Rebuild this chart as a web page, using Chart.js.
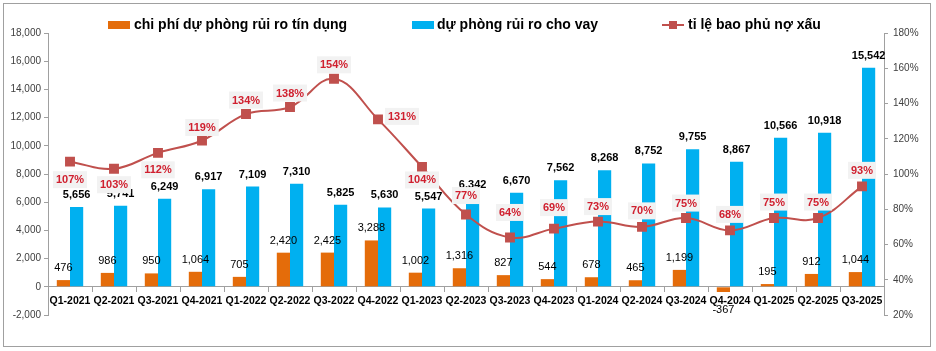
<!DOCTYPE html>
<html lang="vi">
<head>
<meta charset="UTF-8">
<title>Dự phòng rủi ro tín dụng</title>
<script src="https://cdn.jsdelivr.net/npm/chart.js"></script>
<style>
    body { margin: 0; padding: 0; background: #fff; }
    #wrap { width: 936px; height: 351px; }
</style>
</head>
<body>
<div id="wrap"><canvas id="chart" width="936" height="351"></canvas></div>
<script>
// data
const quarters = ['Q1-2021','Q2-2021','Q3-2021','Q4-2021','Q1-2022','Q2-2022','Q3-2022','Q4-2022',
    'Q1-2023','Q2-2023','Q3-2023','Q4-2023','Q1-2024','Q2-2024','Q3-2024','Q4-2024',
    'Q1-2025','Q2-2025','Q3-2025'];
const provisionCost = [476, 986, 950, 1064, 705, 2420, 2425, 3288, 1002, 1316, 827, 544, 678, 465, 1199, -367, 195, 912, 1044];
const loanReserve = [5656, 5741, 6249, 6917, 7109, 7310, 5825, 5630, 5547, 6342, 6670, 7562, 8268, 8752, 9755, 8867, 10566, 10918, 15542];
const coverageRatio = [107, 103, 112, 119, 134, 138, 154, 131, 104, 77, 64, 69, 73, 70, 75, 68, 75, 75, 93];
const leftTicks = [-2000, 0, 2000, 4000, 6000, 8000, 10000, 12000, 14000, 16000, 18000];
const rightTicks = [20, 40, 60, 80, 100, 120, 140, 160, 180];
const seriesNames = ['chi phí dự phòng rủi ro tín dụng', 'dự phòng rủi ro cho vay', 'tỉ lệ bao phủ nợ xấu'];

const ORANGE = '#E46C0A', BLUE = '#00B0F0', RED_LINE = '#C0504D', RED_TXT = '#D0202F';
const AXIS = '#A0A0A0';
const FONT = '"Liberation Sans", Arial, sans-serif';

// where each % label sits relative to its point
const ratioDx = [0,0,0,0,0,0,0,24,0,0,0,0,0,0,0,0,0,0,0];
const ratioDy = [18,16,17,-13,-14,-14,-14,-3,13,-19,-25,-21,-15,-16,-15,-16,-16,-16,-16];

Chart.defaults.font.family = FONT;

const labelPlugin = {
    id: 'labels',
    afterDatasetsDraw(chart) {
        const ctx = chart.ctx;
        ctx.save();
        ctx.textAlign = 'center';
        ctx.textBaseline = 'middle';
        // bar values
        [0, 1].forEach(di => {
            const meta = chart.getDatasetMeta(di);
            const vals = chart.data.datasets[di].data;
            ctx.font = (di === 1 ? 'bold ' : '') + '11px ' + FONT;
            ctx.fillStyle = '#000';
            meta.data.forEach((bar, i) => {
                const v = vals[i];
                const y = v >= 0 ? bar.y - 12 : bar.y + 18;
                ctx.fillText(v.toLocaleString('en-US'), bar.x, y);
            });
        });
        // coverage ratio labels
        const lm = chart.getDatasetMeta(2);
        ctx.font = 'bold 11px ' + FONT;
        lm.data.forEach((pt, i) => {
            const txt = coverageRatio[i] + '%';
            const w = ctx.measureText(txt).width + 6;
            const h = 17;
            const cx = pt.x + ratioDx[i], cy = pt.y + ratioDy[i];
            ctx.fillStyle = '#F2F2F2';
            ctx.fillRect(cx - w / 2, cy - h / 2, w, h);
            ctx.fillStyle = RED_TXT;
            ctx.fillText(txt, cx, cy + 0.5);
        });
        ctx.restore();
    },
    afterDraw(chart) {
        const ctx = chart.ctx;
        ctx.save();
        // outer frame
        ctx.strokeStyle = AXIS;
        ctx.lineWidth = 1;
        ctx.strokeRect(3.5, 3.5, 927, 343);
        // legend
        ctx.font = 'bold 14px ' + FONT;
        ctx.textBaseline = 'middle';
        ctx.textAlign = 'left';
        ctx.fillStyle = ORANGE;
        ctx.fillRect(108, 21, 22, 8);
        ctx.fillStyle = '#000';
        ctx.fillText(seriesNames[0], 134, 25);
        ctx.fillStyle = BLUE;
        ctx.fillRect(412, 21, 22, 8);
        ctx.fillStyle = '#000';
        ctx.fillText(seriesNames[1], 437, 25);
        ctx.strokeStyle = RED_LINE;
        ctx.lineWidth = 2;
        ctx.beginPath();
        ctx.moveTo(662, 25);
        ctx.lineTo(684, 25);
        ctx.stroke();
        ctx.fillStyle = RED_LINE;
        ctx.fillRect(669, 21, 8, 8);
        ctx.fillStyle = '#000';
        ctx.fillText(seriesNames[2], 688, 25);
        ctx.restore();
    }
};

new Chart(document.getElementById('chart'), {
    type: 'bar',
    data: {
        labels: quarters,
        datasets: [
            {
                label: seriesNames[0],
                data: provisionCost,
                backgroundColor: ORANGE,
                yAxisID: 'y',
                barPercentage: 1,
                categoryPercentage: 0.6,
                order: 1
            },
            {
                label: seriesNames[1],
                data: loanReserve,
                backgroundColor: BLUE,
                yAxisID: 'y',
                barPercentage: 1,
                categoryPercentage: 0.6,
                order: 1
            },
            {
                type: 'line',
                label: seriesNames[2],
                data: coverageRatio,
                yAxisID: 'y1',
                borderColor: RED_LINE,
                backgroundColor: RED_LINE,
                borderWidth: 2,
                tension: 0.4,
                pointStyle: 'rect',
                pointRadius: 5.6,
                order: 0
            }
        ]
    },
    options: {
        responsive: false,
        animation: false,
        devicePixelRatio: 1,
        layout: { autoPadding: false, padding: { top: 33, bottom: 36, left: 0, right: 0 } },
        plugins: { legend: { display: false }, tooltip: { enabled: false } },
        scales: {
            x: {
                position: { y: 0 },
                offset: true,
                grid: { drawOnChartArea: false, drawTicks: true, tickLength: 5, color: AXIS, offset: true },
                border: { display: true, color: AXIS },
                ticks: { font: { size: 10.5, weight: 'bold' }, color: '#000', padding: 3, maxRotation: 0, autoSkip: false }
            },
            y: {
                position: 'left',
                min: -2000,
                max: 18000,
                afterBuildTicks: s => { s.ticks = leftTicks.map(v => ({ value: v })); },
                afterFit: s => { s.width = 48; },
                grid: { drawOnChartArea: false, tickLength: 4, color: AXIS },
                border: { display: true, color: AXIS },
                ticks: { font: { size: 10 }, color: '#404040', padding: 3, callback: v => v.toLocaleString('en-US') }
            },
            y1: {
                position: 'right',
                min: 20,
                max: 180,
                afterBuildTicks: s => { s.ticks = rightTicks.map(v => ({ value: v })); },
                afterFit: s => { s.width = 52; },
                grid: { drawOnChartArea: false, tickLength: 4, color: AXIS },
                border: { display: true, color: AXIS },
                ticks: { font: { size: 10 }, color: '#404040', padding: 5, callback: v => v + '%' }
            }
        }
    },
    plugins: [labelPlugin]
});
</script>
</body>
</html>
